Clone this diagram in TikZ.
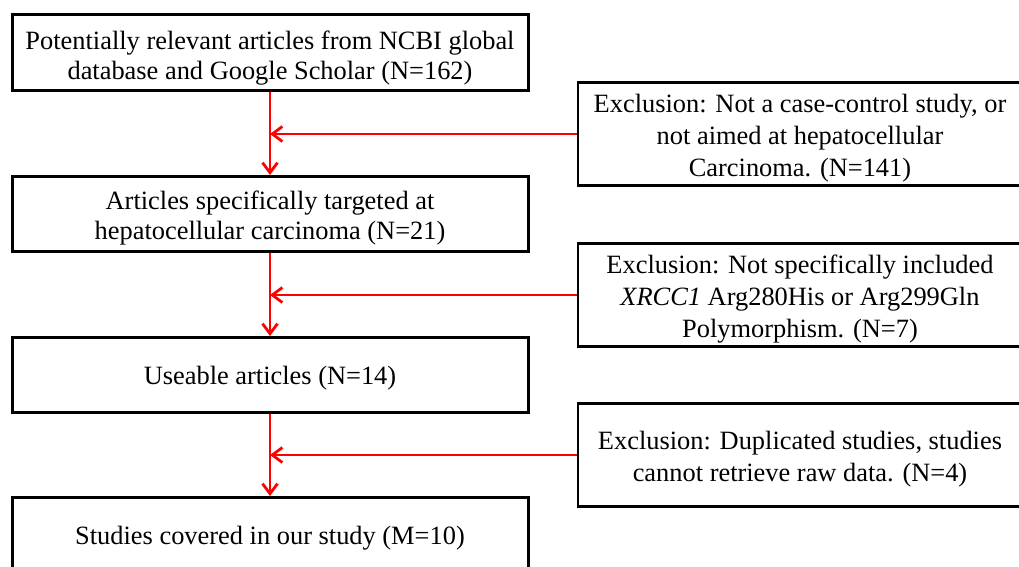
\documentclass[tikz,border=0pt]{standalone}
\usepackage{fontspec}
\setmainfont{Liberation Serif}
\usetikzlibrary{arrows.meta}
\newcommand{\lift}[1]{\rule{0pt}{#1}}
\begin{document}
\begin{tikzpicture}[x=0.5pt,y=-0.5pt,
  stagebox/.style={draw, line width=1.5pt, minimum width=258pt, minimum height=37.5pt, inner ysep=0.5pt, align=center, font=\fontsize{13.2}{15}\selectfont},
  exclbox/.style={draw, line width=1.3pt, minimum width=222pt, minimum height=51.5pt, inner ysep=0.5pt, align=center, font=\fontsize{13.2}{16}\selectfont},
  flow/.style={line width=1.4pt, red, -{Straight Barb[length=5pt,width=7.5pt]}}]
\useasboundingbox (0,0) rectangle (1019,567);
\node[stagebox, minimum height=38pt] (found) at (270,53) {\lift{14.5pt}Potentially relevant articles from NCBI global\\database and Google Scholar (N=162)};
\node[stagebox] (target) at (270,214) {\lift{13.5pt}Articles specifically targeted at\\hepatocellular carcinoma (N=21)};
\node[stagebox] (useable) at (270,375) {\lift{12pt}Useable articles (N=14)};
\node[stagebox] (covered) at (270,535) {\lift{12.5pt}Studies covered in our study (M=10)};
\node[exclbox] (excl1) at (800,134) {\lift{13pt}Exclusion: Not a case-control study, or\\not aimed at hepatocellular\\Carcinoma. (N=141)};
\node[exclbox] (excl2) at (800,295) {\lift{13pt}Exclusion: Not specifically included\\\textit{XRCC1} Arg280His or Arg299Gln\\Polymorphism. (N=7)};
\node[exclbox] (excl3) at (800,455) {\lift{13.5pt}Exclusion: Duplicated studies, studies\\cannot retrieve raw data. (N=4)};
% main flow
\draw [flow] (found) -- (target);
\draw [flow] (target) -- (useable);
\draw [flow] (useable) -- (covered);
% exclusions
\draw [flow] (excl1.west) -- (excl1.west -| found.south);
\draw [flow] (excl2.west) -- (excl2.west -| target.south);
\draw [flow] (excl3.west) -- (excl3.west -| useable.south);
\end{tikzpicture}
\end{document}
